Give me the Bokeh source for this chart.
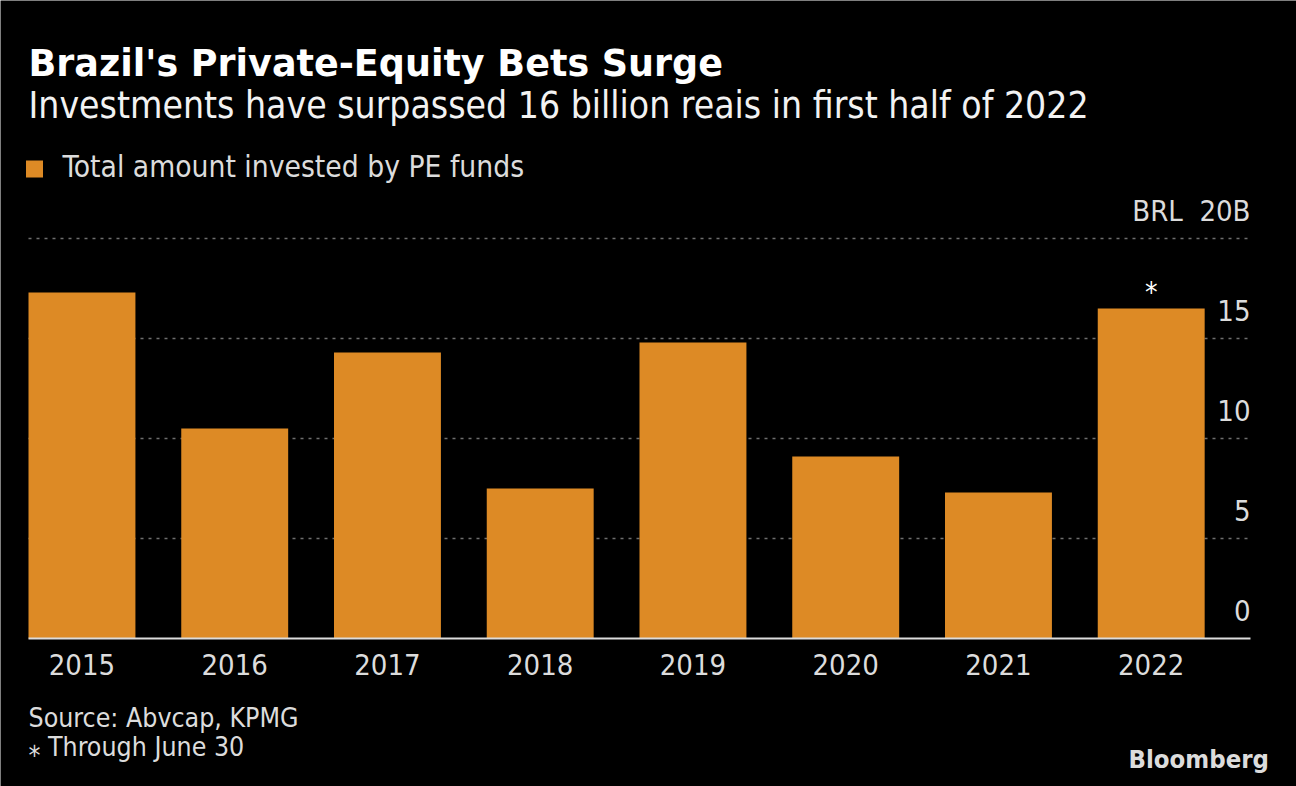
from bokeh.plotting import figure
from bokeh.models import Label, ColumnDataSource
from bokeh.embed import file_html
from bokeh.resources import INLINE
from bokeh.core.properties import value

years = ["2015", "2016", "2017", "2018", "2019", "2020", "2021", "2022"]
amounts = [17.3, 10.5, 14.3, 7.5, 14.8, 9.1, 7.3, 16.5]
y_ticks = [0, 5, 10, 15, 20]
y_tick_labels = ["0", "5", "10", "15", "BRL\u00a0\u00a020B"]

title = "Brazil's Private-Equity Bets Surge"
subtitle = "Investments have surpassed 16 billion reais in first half of 2022"
legend_label = "Total amount invested by PE funds"
source_note = "Source: Abvcap, KPMG"
foot_note = "\u204e Through June 30"

FONT = "DejaVu Sans Condensed"
TFONT = "DejaVu Sans"
BAR = "#DD8A25"
BG = "#000000"
W, H = 1296, 786

# plot area (data) spans x from first bar's left edge to the right edge of the gridlines
PX_PER_X = 152.75
PX_PER_Y = 20.0
LEFT_PX, RIGHT_PX, BASE_PX = 28, 1250, 638
X0 = -0.35
X1 = X0 + (RIGHT_PX - LEFT_PX) / PX_PER_X

p = figure(width=W, height=H, output_backend="svg", toolbar_location=None,
           x_range=(X0 - LEFT_PX / PX_PER_X, X0 + (W - LEFT_PX) / PX_PER_X),
           y_range=(-(H - BASE_PX) / PX_PER_Y, BASE_PX / PX_PER_Y),
           x_axis_type=None, y_axis_type=None,
           min_border=0, min_border_left=0, min_border_right=0,
           min_border_top=0, min_border_bottom=0,
           background_fill_color=BG, border_fill_color=BG, outline_line_color=None)
p.grid.visible = False

xs = list(range(len(years)))

# gridlines
gy = y_ticks[1:]
gsrc = ColumnDataSource(dict(x0=[X0] * len(gy), x1=[X1] * len(gy), y=gy))
p.segment(x0="x0", y0="y", x1="x1", y1="y", source=gsrc, line_color="#6e6e6e",
          line_width=1.5, line_dash="3 5")

src = ColumnDataSource(dict(x=xs, top=amounts, year=years))
p.vbar(x="x", top="top", bottom=0, width=0.7, source=src, fill_color=BAR, line_color=None)

# baseline
p.segment(x0=[X0], y0=[0], x1=[X1], y1=[0], line_color="#dcdcdc", line_width=2)

# y tick labels
tsrc = ColumnDataSource(dict(x=[X1] * len(y_ticks), y=y_ticks, t=y_tick_labels))
p.text(x="x", y="y", text="t", source=tsrc, text_align="right", text_baseline="alphabetic",
       y_offset=-28, text_color="#dcdcdc", text_font=value(FONT), text_font_size="29px")

# x labels
p.text(x="x", y=0, text="year", source=src, text_align="center", text_baseline="alphabetic",
       y_offset=26, text_color="#dcdcdc", text_font=value(FONT), text_font_size="29px")

# asterisk on 2022
p.text(x=[xs[-1]], y=[amounts[-1]], text=["\u204e"], text_align="center", text_baseline="middle",
       y_offset=-25, text_color="#ffffff", text_font=value(FONT), text_font_size="28px")


def lab(px, py, text, size, color="#dcdcdc", style="normal", font=FONT):
    p.add_layout(Label(x=px, y=H - py, x_units="screen", y_units="screen", text=text,
                       text_font=font, text_font_size=size, text_color=color,
                       text_font_style=style, text_baseline="alphabetic", text_align="left"))


lab(28, 63, title, "36.5px", "#ffffff", "bold", TFONT)
lab(28, 105, subtitle, "37px", "#f2f2f2")
lab(62, 166, legend_label, "29.7px")
lab(28, 717, source_note, "26.5px")
lab(28, 746, foot_note, "26.5px")
lab(1128, 758, "Bloomberg", "25.5px", "#dcdcdc", "bold")

# legend swatch
p.rect(x=[X0 + (34 - LEFT_PX) / PX_PER_X], y=[(BASE_PX - 168.5) / PX_PER_Y],
       width=17, height=17, width_units="screen", height_units="screen",
       fill_color=BAR, line_color=None)

open("out.html", "w").write(file_html(p, INLINE))
